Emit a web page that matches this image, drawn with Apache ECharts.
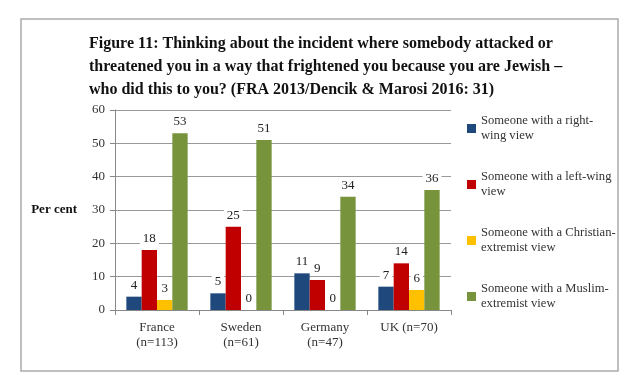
<!DOCTYPE html>
<html>
<head>
<meta charset="utf-8">
<script src="https://cdn.jsdelivr.net/npm/echarts@6/dist/echarts.min.js"></script>
<style>html,body{margin:0;padding:0;background:#fff;}#c{width:640px;height:390px;}</style>
</head>
<body>
<div id="c"></div>
<script>
const categories = ['France\n(n=113)', 'Sweden\n(n=61)', 'Germany\n(n=47)', 'UK (n=70)'];
const seriesNames = ['Someone with a right-wing view', 'Someone with a left-wing view', 'Someone with a Christian-extremist view', 'Someone with a Muslim-extremist view'];
const legendLabels = ['Someone with a right-\nwing view', 'Someone with a left-wing\nview', 'Someone with a Christian-\nextremist view', 'Someone with a Muslim-\nextremist view'];
const rightWing = [4, 5, 11, 7];
const leftWing = [18, 25, 9, 14];
const christianExtremist = [3, 0, 0, 6];
const muslimExtremist = [53, 51, 34, 36];
const colors = ['#1F497D', '#C00000', '#FFC000', '#77933C'];
const titleText = 'Figure 11: Thinking about the incident where somebody attacked or\nthreatened you in a way that frightened you because you are Jewish –\nwho did this to you? (FRA 2013/Dencik & Marosi 2016: 31)';

const FONT = '"Liberation Serif", "DejaVu Serif", serif';
const values = [rightWing, leftWing, christianExtremist, muslimExtremist];

const chart = echarts.init(document.getElementById('c'), null, {renderer: 'canvas'});
chart.setOption({
  backgroundColor: '#fff',
  animation: false,
  title: {
    text: titleText,
    left: 84, top: 27,
    textStyle: {fontFamily: FONT, fontWeight: 'bold', fontSize: 16, lineHeight: 23, color: '#111'}
  },
  graphic: [{
    type: 'rect', shape: {x: 21, y: 19, width: 597, height: 352},
    style: {fill: 'none', stroke: '#aaaaaa', lineWidth: 1.5}, silent: true
  }],
  legend: {
    orient: 'vertical', left: 467, top: 106, padding: 0,
    itemWidth: 9, itemHeight: 9, itemGap: 11,
    icon: 'rect',
    formatter: function (name) { return legendLabels[seriesNames.indexOf(name)]; },
    textStyle: {fontFamily: FONT, fontSize: 12.6, lineHeight: 15, color: '#333', padding: [15, 0, 0, 0]},
    itemStyle: {borderWidth: 0}
  },
  grid: {left: 115, right: 189, top: 110, bottom: 80},
  xAxis: {
    type: 'category', data: categories,
    axisLine: {lineStyle: {color: '#888'}},
    axisTick: {show: true, length: 5, lineStyle: {color: '#888'}},
    axisLabel: {fontFamily: FONT, fontSize: 13, lineHeight: 15, color: '#333', margin: 10}
  },
  yAxis: {
    type: 'value', min: 0, max: 60, interval: 10,
    name: 'Per cent', nameLocation: 'middle', nameRotate: 0, nameGap: 38,
    nameTextStyle: {fontFamily: FONT, fontSize: 13, fontWeight: 'bold', color: '#111'},
    axisLine: {show: true, lineStyle: {color: '#888'}},
    axisTick: {show: true, length: 5, lineStyle: {color: '#888'}},
    axisLabel: {fontFamily: FONT, fontSize: 13, color: '#333', margin: 10},
    splitLine: {lineStyle: {color: '#999', width: 1}}
  },
  series: seriesNames.map((n, i) => ({
    name: n, type: 'bar', data: values[i],
    barGap: '0%', barCategoryGap: '27%',
    itemStyle: {color: colors[i]},
    label: {
      show: true, position: 'top', distance: 4,
      fontFamily: FONT, fontSize: 13, color: '#222',
      backgroundColor: '#fff', padding: [1, 3]
    }
  }))
});
</script>
</body>
</html>
